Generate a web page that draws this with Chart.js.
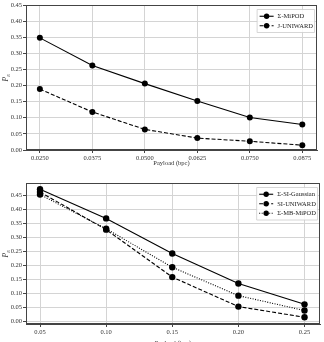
<!DOCTYPE html>
<html>
<head>
<meta charset="utf-8">
<script src="https://cdn.jsdelivr.net/npm/chart.js@4.4.1/dist/chart.umd.min.js"></script>
<style>
  html, body { margin: 0; padding: 0; background: #fff; overflow: hidden; }
  #wrap { position: relative; width: 324px; height: 342px; overflow: hidden; }
  .box { position: absolute; left: 0; width: 324px; }
</style>
</head>
<body>
<div id="wrap">
  <div class="box" style="top:0;height:171px"><canvas id="topChart" width="324" height="171"></canvas></div>
  <div class="box" style="top:171px;height:180px"><canvas id="bottomChart" width="324" height="180"></canvas></div>
</div>
<script>
// Top panel data
const payloadTop = [0.025, 0.0375, 0.05, 0.0625, 0.075, 0.0875];
const miPOD = [0.348, 0.262, 0.206, 0.152, 0.101, 0.079];
const jUniward = [0.189, 0.118, 0.064, 0.037, 0.027, 0.015];
const topXTicks = [0.025, 0.0375, 0.05, 0.0625, 0.075, 0.0875];
const topYTicks = [0, 0.05, 0.1, 0.15, 0.2, 0.25, 0.3, 0.35, 0.4, 0.45];

// Bottom panel data
const payloadBottom = [0.05, 0.10, 0.15, 0.20, 0.25];
const siGaussian = [0.472, 0.368, 0.243, 0.136, 0.062];
const siUniward = [0.462, 0.328, 0.159, 0.054, 0.016];
const mbMiPOD = [0.453, 0.331, 0.194, 0.093, 0.040];
const bottomXTicks = [0.05, 0.10, 0.15, 0.20, 0.25];
const bottomYTicks = [0, 0.05, 0.1, 0.15, 0.2, 0.25, 0.3, 0.35, 0.4, 0.45];

const FONT = 'Liberation Serif';
const pts = (xs, ys) => xs.map((x, i) => ({ x: x, y: ys[i] }));

function series(label, xs, ys, dash, r) {
    return {
        label: label,
        data: pts(xs, ys),
        borderColor: '#000',
        backgroundColor: '#000',
        borderWidth: 1.1,
        borderDash: dash,
        pointRadius: r,
        pointBorderWidth: 0,
        tension: 0
    };
}

// frame, y label and in-plot legend
const decor = {
    id: 'decor',
    afterDraw(chart) {
        const { ctx, chartArea: a } = chart;
        ctx.save();
        ctx.strokeStyle = '#444';
        ctx.lineWidth = 1;
        ctx.strokeRect(a.left + 0.5, a.top + 0.5, a.right - a.left - 1, a.bottom - a.top - 1);

        // y axis label P_E
        const mid = (a.top + a.bottom) / 2;
        ctx.translate(6, mid);
        ctx.rotate(-Math.PI / 2);
        ctx.fillStyle = '#333';
        ctx.textBaseline = 'alphabetic';
        ctx.font = 'italic 7.5px ' + FONT;
        const pw = ctx.measureText('P').width;
        ctx.fillText('P', -4, 2);
        ctx.font = 'italic 5px ' + FONT;
        ctx.fillText('E', -4 + pw, 4);
        ctx.restore();

        // legend
        const ds = chart.data.datasets;
        ctx.save();
        ctx.font = '6.5px ' + FONT;
        let tw = 0;
        ds.forEach(d => { tw = Math.max(tw, ctx.measureText(d.label).width); });
        const rowH = 9.5;
        const w = 22 + tw;
        const h = ds.length * rowH + 4;
        const x0 = a.right - 3 - w;
        const y0 = a.top + 4;
        ctx.fillStyle = 'rgba(255,255,255,0.85)';
        ctx.strokeStyle = '#ccc';
        ctx.lineWidth = 0.8;
        ctx.beginPath();
        ctx.rect(x0 + 0.5, y0 + 0.5, w, h);
        ctx.fill();
        ctx.stroke();
        ds.forEach((d, i) => {
            const yy = y0 + 2.5 + rowH * (i + 0.5);
            ctx.strokeStyle = '#000';
            ctx.lineWidth = 1.1;
            ctx.setLineDash(d.borderDash);
            ctx.beginPath();
            ctx.moveTo(x0 + 3, yy);
            ctx.lineTo(x0 + 17, yy);
            ctx.stroke();
            ctx.setLineDash([]);
            ctx.fillStyle = '#000';
            ctx.beginPath();
            ctx.arc(x0 + 10, yy, 2.7, 0, Math.PI * 2);
            ctx.fill();
            ctx.fillStyle = '#222';
            ctx.textBaseline = 'middle';
            ctx.fillText(d.label, x0 + 21, yy + 0.5);
        });
        ctx.restore();
    }
};

function makeChart(id, datasets, o) {
    return new Chart(document.getElementById(id), {
        type: 'line',
        data: { datasets: datasets },
        plugins: [decor],
        options: {
            responsive: false,
            animation: false,
            devicePixelRatio: 1,
            layout: { padding: { top: o.top, right: o.right, left: 0, bottom: 0 } },
            plugins: { legend: { display: false }, tooltip: { enabled: false } },
            scales: {
                x: {
                    type: 'linear',
                    min: o.xMin,
                    max: o.xMax,
                    afterBuildTicks: s => { s.ticks = o.xTicks.map(v => ({ value: v })); },
                    afterFit: s => { s.height = o.xHeight; },
                    ticks: {
                        font: { family: FONT, size: 6.5 },
                        color: '#333',
                        padding: 1,
                        maxRotation: 0,
                        autoSkip: false,
                        callback: v => v.toFixed(o.xDec)
                    },
                    grid: { color: '#d4d4d4', lineWidth: 1, tickLength: 3, tickColor: '#444' },
                    border: { color: '#444', width: 1 },
                    title: {
                        display: true,
                        text: 'Payload (bpc)',
                        font: { family: FONT, size: 6.5 },
                        color: '#333',
                        padding: { top: 0, bottom: 4 }
                    }
                },
                y: {
                    min: o.yMin,
                    max: o.yMax,
                    afterBuildTicks: s => { s.ticks = o.yTicks.map(v => ({ value: v })); },
                    afterFit: s => { s.width = 26; },
                    ticks: {
                        font: { family: FONT, size: 6.5 },
                        color: '#333',
                        padding: 1,
                        callback: v => v.toFixed(2)
                    },
                    grid: { color: '#d4d4d4', lineWidth: 1, tickLength: 3, tickColor: '#444' },
                    border: { color: '#444', width: 1 }
                }
            }
        }
    });
}

makeChart('topChart', [
    series('\u03A3-MiPOD', payloadTop, miPOD, [], 3),
    series('J-UNIWARD', payloadTop, jUniward, [4, 2], 3)
], {
    top: 5, right: 7, xHeight: 21,
    xMin: 0.0217, xMax: 0.0910, xTicks: topXTicks, xDec: 4,
    yMin: 0, yMax: 0.45, yTicks: topYTicks
});

makeChart('bottomChart', [
    series('\u03A3-SI-Gaussian', payloadBottom, siGaussian, [], 3.2),
    series('SI-UNIWARD', payloadBottom, siUniward, [4, 2], 3.2),
    series('\u03A3-MB-MiPOD', payloadBottom, mbMiPOD, [1, 1.5], 3.2)
], {
    top: 12, right: 4, xHeight: 27,
    xMin: 0.0394, xMax: 0.2617, xTicks: bottomXTicks, xDec: 2,
    yMin: -0.008, yMax: 0.494, yTicks: bottomYTicks
});
</script>
</body>
</html>
